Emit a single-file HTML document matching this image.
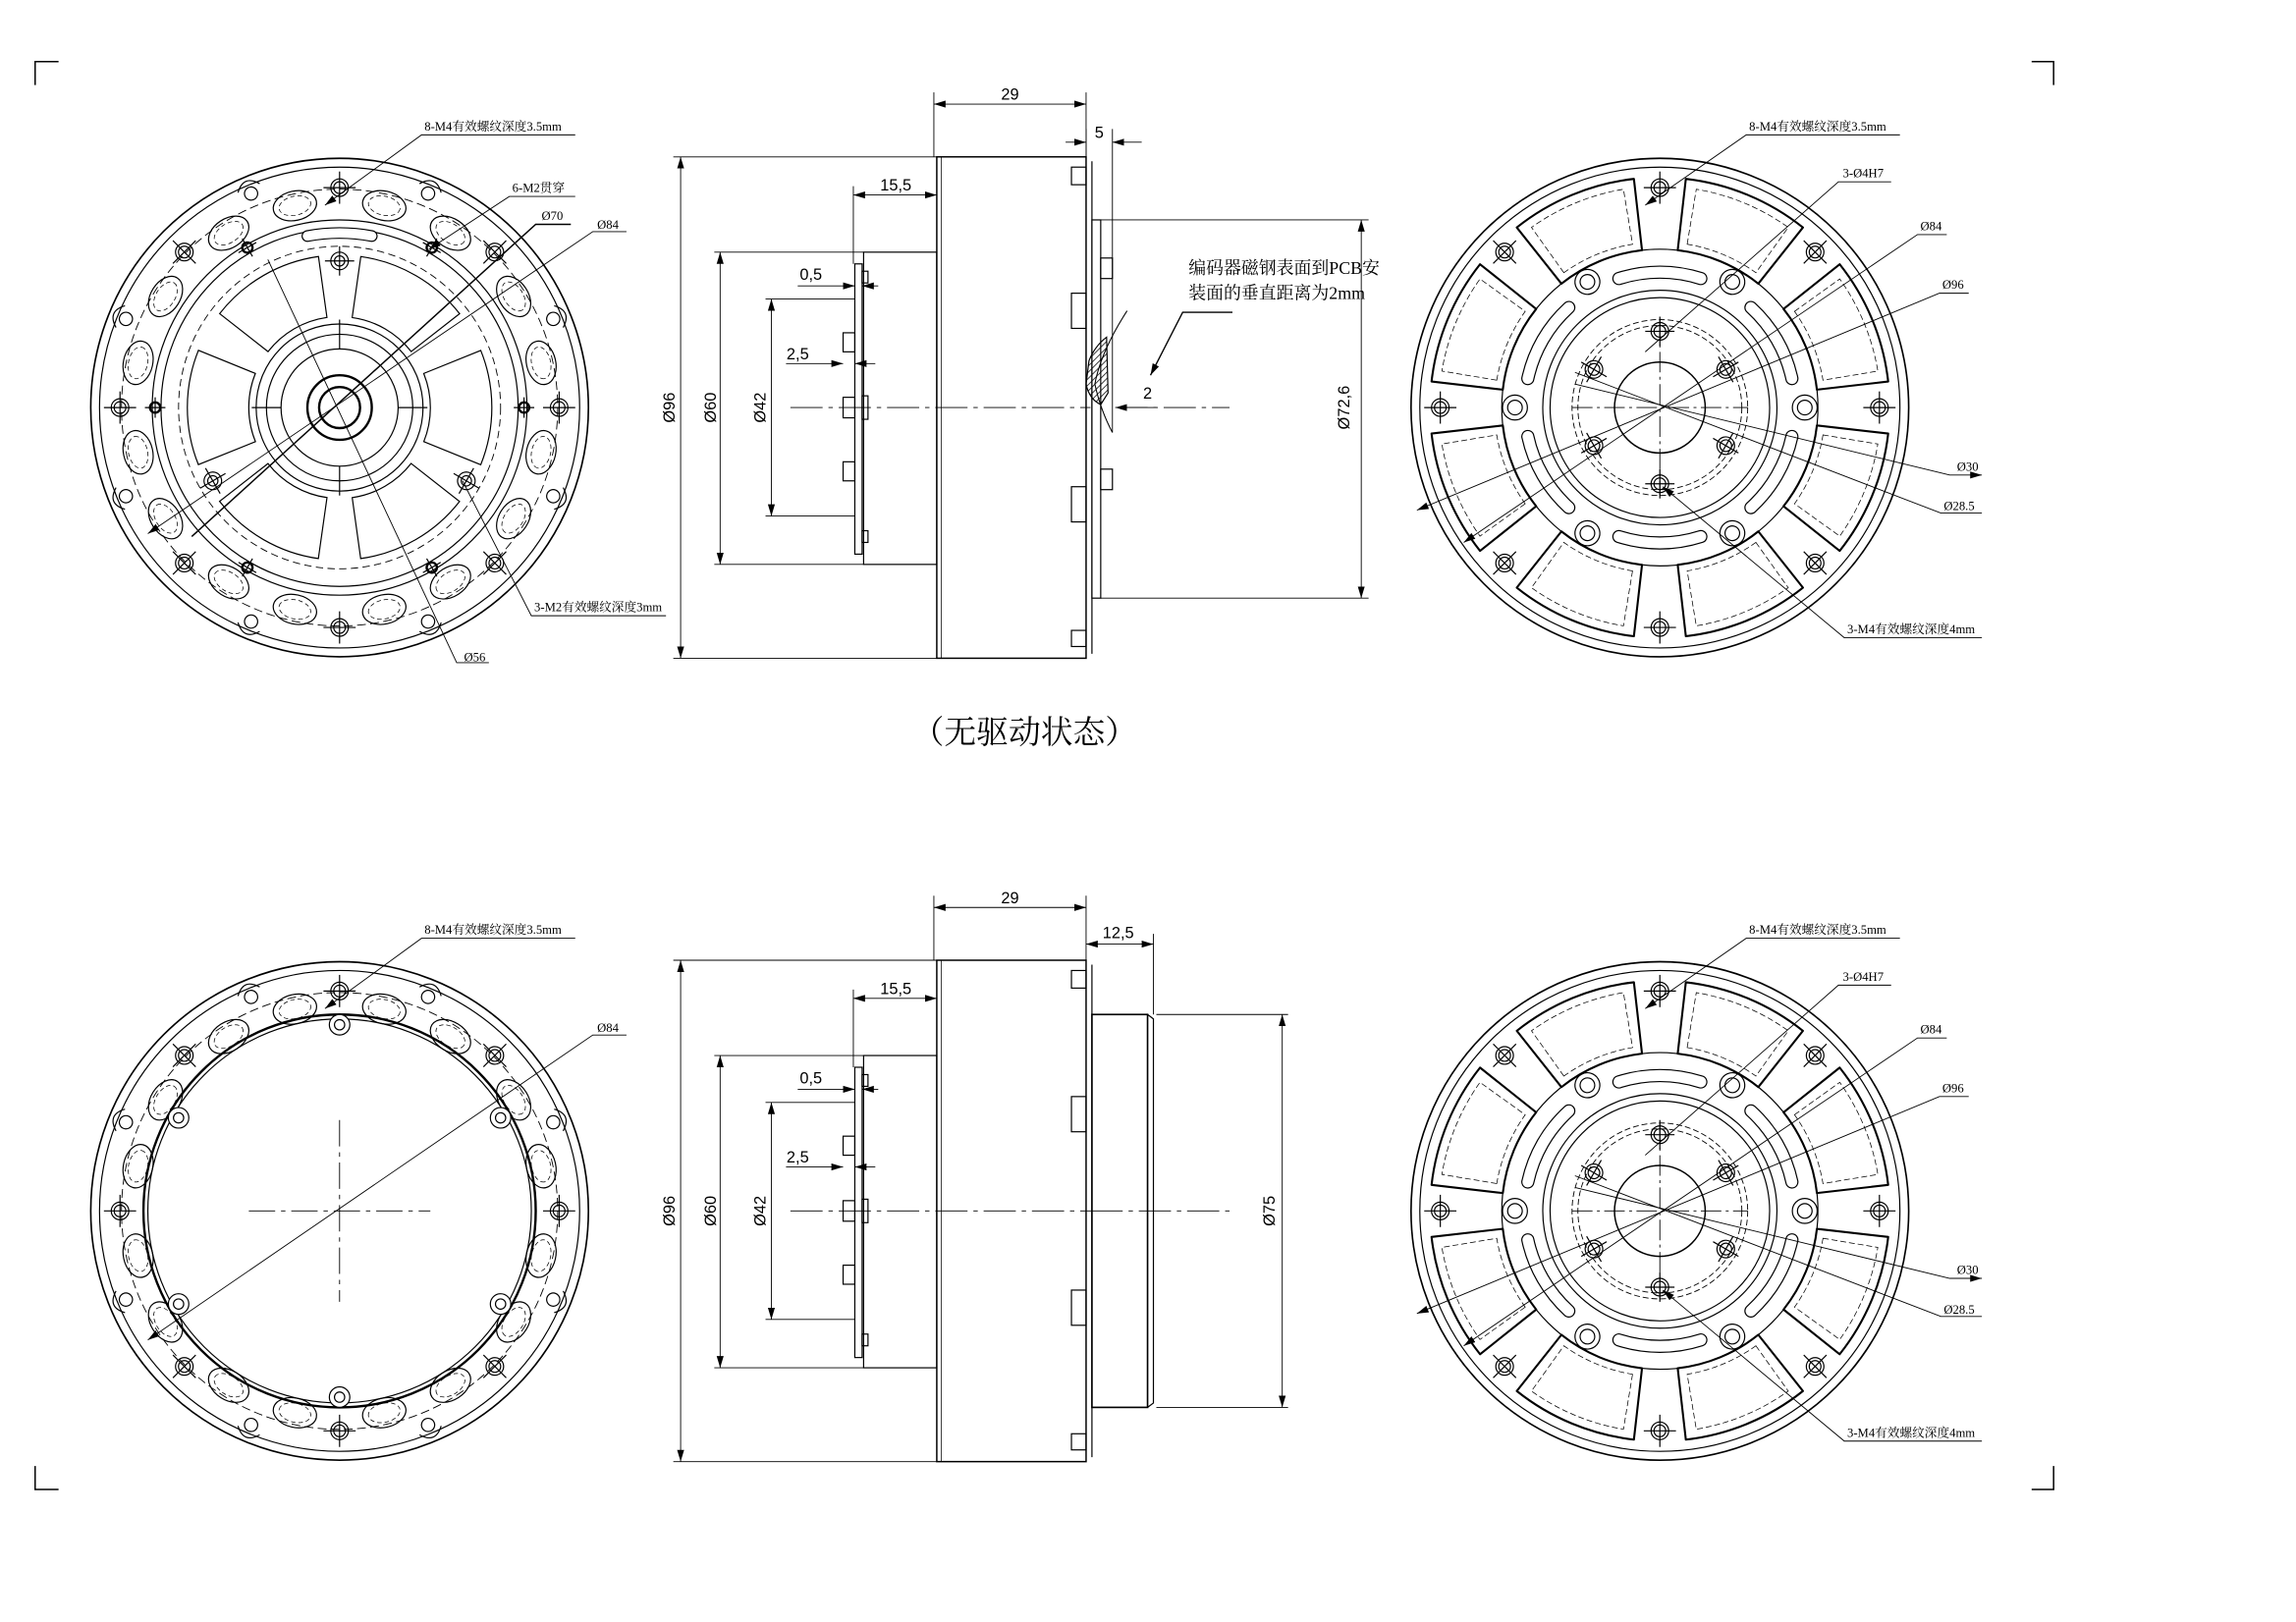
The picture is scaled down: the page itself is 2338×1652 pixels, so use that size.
<!DOCTYPE html>
<html><head><meta charset="utf-8"><style>
html,body{margin:0;padding:0;background:#fff;}
svg{display:block;}
text{font-family:"Liberation Sans","Noto Sans CJK SC",sans-serif;fill:#000;}
.s{font-family:"Liberation Serif","Noto Serif CJK SC","Noto Sans CJK SC",serif;}
</style></head><body>
<svg width="2338" height="1652" viewBox="0 0 1568.6 1106.4" preserveAspectRatio="none" xmlns="http://www.w3.org/2000/svg">
<defs>
<marker id="a" viewBox="0 0 10 6" refX="10" refY="3" markerWidth="8" markerHeight="5" orient="auto-start-reverse" markerUnits="userSpaceOnUse"><path d="M0,0 L10,3 L0,6z" fill="#000"/></marker>
<pattern id="h" width="3" height="3" patternUnits="userSpaceOnUse" patternTransform="rotate(45)"><line x1="0" y1="0" x2="0" y2="3" stroke="#000" stroke-width="1"/></pattern>
<g id="ov"><ellipse cx="0" cy="-141" rx="15" ry="10"/><ellipse cx="0" cy="-141" rx="11" ry="6.5" stroke-dasharray="3 2" stroke-width="0.5"/></g>
<g id="m4"><circle cx="0" cy="-150" r="6"/><circle cx="0" cy="-150" r="4"/><line x1="-11" y1="-150" x2="11" y2="-150"/><line x1="0" y1="-161" x2="0" y2="-139"/></g>
<g id="sh"><circle cx="0" cy="-158" r="4.5"/><path d="M-8,-162 Q0,-172 8,-162"/></g>
<g id="ring" fill="none" stroke="#000" stroke-width="0.8">
<circle r="170" stroke-width="1.1"/><circle r="164"/>
<circle r="149" stroke-dasharray="6 3" stroke-width="0.6"/>
<use href="#ov" transform="rotate(12.5)"/><use href="#ov" transform="rotate(32.5)"/><use href="#ov" transform="rotate(57.5)"/><use href="#ov" transform="rotate(77.5)"/>
<use href="#ov" transform="rotate(102.5)"/><use href="#ov" transform="rotate(122.5)"/><use href="#ov" transform="rotate(147.5)"/><use href="#ov" transform="rotate(167.5)"/>
<use href="#ov" transform="rotate(192.5)"/><use href="#ov" transform="rotate(212.5)"/><use href="#ov" transform="rotate(237.5)"/><use href="#ov" transform="rotate(257.5)"/>
<use href="#ov" transform="rotate(282.5)"/><use href="#ov" transform="rotate(302.5)"/><use href="#ov" transform="rotate(327.5)"/><use href="#ov" transform="rotate(347.5)"/>
<use href="#m4"/><use href="#m4" transform="rotate(45)"/><use href="#m4" transform="rotate(90)"/><use href="#m4" transform="rotate(135)"/>
<use href="#m4" transform="rotate(180)"/><use href="#m4" transform="rotate(225)"/><use href="#m4" transform="rotate(270)"/><use href="#m4" transform="rotate(315)"/>
<use href="#sh" transform="rotate(22.5)"/><use href="#sh" transform="rotate(67.5)"/><use href="#sh" transform="rotate(112.5)"/><use href="#sh" transform="rotate(157.5)"/>
<use href="#sh" transform="rotate(202.5)"/><use href="#sh" transform="rotate(247.5)"/><use href="#sh" transform="rotate(292.5)"/><use href="#sh" transform="rotate(337.5)"/>
</g>
<path id="win" d="M8.6,-61.4 L14.5,-103 A104,104 0 0 1 82,-64 L48.9,-38.2 A62,62 0 0 0 8.6,-61.4Z"/>
<g id="m2a"><circle cx="0" cy="-100" r="3.5"/><circle cx="0" cy="-100" r="6"/><line x1="-10" y1="-100" x2="10" y2="-100"/><line x1="0" y1="-110" x2="0" y2="-90"/></g>
<g id="m2b"><circle cx="0" cy="-126" r="3.5" stroke-width="1.6"/><line x1="-7" y1="-126" x2="7" y2="-126"/><line x1="0" y1="-133" x2="0" y2="-119"/></g>
<g id="rwin"><path d="M-29.8,-103.8 L-43.3,-150.9 A157,157 0 0 1 43.3,-150.9 L29.8,-103.8 A108,108 0 0 0 -29.8,-103.8Z" stroke-width="1.4" stroke-linejoin="round"/>
<path d="M-25.4,-110.1 L-34,-147.1 A151,151 0 0 1 34,-147.1 L25.4,-110.1 A113,113 0 0 0 -25.4,-110.1Z" stroke-dasharray="4 2" stroke-width="0.5"/></g>
<g id="slot"><path d="M-28,-88 A92,92 0 0 1 28,-88" stroke-width="9" stroke-linecap="round"/><path d="M-28,-88 A92,92 0 0 1 28,-88" stroke="#fff" stroke-width="7.4" stroke-linecap="round"/></g>
<g id="sh2"><circle cx="0" cy="-99" r="5"/><circle cx="0" cy="-99" r="8.5"/></g>
<g id="ih"><circle cx="0" cy="-52" r="6"/><circle cx="0" cy="-52" r="4"/><line x1="-10" y1="-52" x2="10" y2="-52"/><line x1="0" y1="-62" x2="0" y2="-42"/></g>
<g id="rv" fill="none" stroke="#000" stroke-width="0.8">
<circle r="170" stroke-width="1.1"/><circle r="164"/>
<use href="#rwin" transform="rotate(22.5)"/><use href="#rwin" transform="rotate(67.5)"/><use href="#rwin" transform="rotate(112.5)"/><use href="#rwin" transform="rotate(157.5)"/>
<use href="#rwin" transform="rotate(202.5)"/><use href="#rwin" transform="rotate(247.5)"/><use href="#rwin" transform="rotate(292.5)"/><use href="#rwin" transform="rotate(337.5)"/>
<use href="#m4"/><use href="#m4" transform="rotate(45)"/><use href="#m4" transform="rotate(90)"/><use href="#m4" transform="rotate(135)"/>
<use href="#m4" transform="rotate(180)"/><use href="#m4" transform="rotate(225)"/><use href="#m4" transform="rotate(270)"/><use href="#m4" transform="rotate(315)"/>
<circle r="108"/>
<use href="#slot"/><use href="#slot" transform="rotate(60)"/><use href="#slot" transform="rotate(120)"/><use href="#slot" transform="rotate(180)"/><use href="#slot" transform="rotate(240)"/><use href="#slot" transform="rotate(300)"/>
<use href="#sh2" transform="rotate(30)"/><use href="#sh2" transform="rotate(90)"/><use href="#sh2" transform="rotate(150)"/><use href="#sh2" transform="rotate(210)"/><use href="#sh2" transform="rotate(270)"/><use href="#sh2" transform="rotate(330)"/>
<circle r="80"/><circle r="75"/>
<circle r="60" stroke-dasharray="4 2" stroke-width="0.6"/><circle r="56" stroke-dasharray="4 2" stroke-width="0.6"/>
<circle r="31" stroke-width="1"/>
<use href="#ih"/><use href="#ih" transform="rotate(60)"/><use href="#ih" transform="rotate(120)"/><use href="#ih" transform="rotate(180)"/><use href="#ih" transform="rotate(240)"/><use href="#ih" transform="rotate(300)"/>
<line x1="-60" y1="0" x2="60" y2="0" stroke-dasharray="14 3 2 3" stroke-width="0.6"/>
<line x1="0" y1="-60" x2="0" y2="60" stroke-dasharray="14 3 2 3" stroke-width="0.6"/>
</g>
<g id="side" fill="none" stroke="#000" stroke-width="0.8">
<rect x="640" y="107" width="102" height="342" stroke-width="1"/>
<line x1="643" y1="107" x2="643" y2="449" stroke-width="0.5"/>
<line x1="746" y1="110" x2="746" y2="446"/>
<rect x="732" y="114" width="10" height="12"/><rect x="732" y="200" width="10" height="24"/><rect x="732" y="332" width="10" height="24"/><rect x="732" y="430" width="10" height="11"/>
<line x1="638" y1="63" x2="638" y2="107" stroke-width="0.6"/><line x1="742" y1="63" x2="742" y2="107" stroke-width="0.6"/>
<line x1="638" y1="71" x2="742" y2="71" marker-start="url(#a)" marker-end="url(#a)" stroke-width="0.6"/>
<line x1="460" y1="107" x2="640" y2="107" stroke-width="0.6"/><line x1="460" y1="449" x2="640" y2="449" stroke-width="0.6"/>
<line x1="465" y1="107" x2="465" y2="449" marker-start="url(#a)" marker-end="url(#a)" stroke-width="0.6"/>
<rect x="590" y="172" width="50" height="213"/>
<line x1="488" y1="172" x2="590" y2="172" stroke-width="0.6"/><line x1="488" y1="385" x2="590" y2="385" stroke-width="0.6"/>
<line x1="492" y1="172" x2="492" y2="385" marker-start="url(#a)" marker-end="url(#a)" stroke-width="0.6"/>
<rect x="584" y="180" width="5" height="198"/>
<rect x="576" y="227" width="8" height="13"/><rect x="576" y="271" width="8" height="14"/><rect x="576" y="315" width="8" height="13"/>
<rect x="589" y="185" width="4" height="8"/><rect x="589" y="270" width="4" height="16"/><rect x="589" y="362" width="4" height="8"/>
<line x1="523" y1="204" x2="584" y2="204" stroke-width="0.6"/><line x1="523" y1="352" x2="584" y2="352" stroke-width="0.6"/>
<line x1="527" y1="204" x2="527" y2="352" marker-start="url(#a)" marker-end="url(#a)" stroke-width="0.6"/>
<line x1="545" y1="195" x2="584" y2="195" marker-end="url(#a)" stroke-width="0.6"/><line x1="600" y1="195" x2="589" y2="195" marker-end="url(#a)" stroke-width="0.6"/>
<line x1="537" y1="248" x2="576" y2="248" marker-end="url(#a)" stroke-width="0.6"/><line x1="598" y1="248" x2="584" y2="248" marker-end="url(#a)" stroke-width="0.6"/>
<line x1="583" y1="127" x2="583" y2="180" stroke-width="0.6"/>
<line x1="583" y1="133" x2="640" y2="133" marker-start="url(#a)" marker-end="url(#a)" stroke-width="0.6"/>
<line x1="540" y1="278" x2="745" y2="278" stroke-dasharray="22 4 3 4" stroke-width="0.6"/>
</g>
<g id="sidet">
<use href="#side"/>
<text x="690" y="68" font-size="11" text-anchor="middle">29</text>
<text x="612" y="130" font-size="11" text-anchor="middle">15,5</text>
<text x="554" y="191" font-size="11" text-anchor="middle">0,5</text>
<text x="545" y="245" font-size="11" text-anchor="middle">2,5</text>
<text transform="translate(461,278) rotate(-90)" font-size="11" text-anchor="middle">Ø96</text>
<text transform="translate(489,278) rotate(-90)" font-size="11" text-anchor="middle">Ø60</text>
<text transform="translate(523,278) rotate(-90)" font-size="11" text-anchor="middle">Ø42</text>
</g>
</defs>

<g fill="none" stroke="#000" stroke-width="1">
<path d="M24,58 V42 H40"/><path d="M1388,42 H1403 V58"/><path d="M24,1000 V1016 H40"/><path d="M1403,1000 V1016 H1388"/>
</g>

<g transform="translate(232,278)" fill="none" stroke="#000" stroke-width="0.8">
<use href="#ring"/>
<circle r="128"/><circle r="122"/><circle r="110" stroke-dasharray="5 3" stroke-width="0.6"/>
<path d="M-22,-117 A119,119 0 0 1 22,-117" stroke-width="8" stroke-linecap="round"/><path d="M-22,-117 A119,119 0 0 1 22,-117" stroke="#fff" stroke-width="6.4" stroke-linecap="round"/>
<use href="#win"/><use href="#win" transform="rotate(60)"/><use href="#win" transform="rotate(120)"/><use href="#win" transform="rotate(180)"/><use href="#win" transform="rotate(240)"/><use href="#win" transform="rotate(300)"/>
<use href="#m2a"/><use href="#m2a" transform="rotate(120)"/><use href="#m2a" transform="rotate(240)"/>
<use href="#m2b" transform="rotate(30)"/><use href="#m2b" transform="rotate(90)"/><use href="#m2b" transform="rotate(150)"/><use href="#m2b" transform="rotate(210)"/><use href="#m2b" transform="rotate(270)"/><use href="#m2b" transform="rotate(330)"/>
<circle r="57"/><circle r="50"/><circle r="40"/><circle r="22" stroke-width="1.6"/><circle r="14" stroke-width="1.6"/>
<line x1="-60" y1="0" x2="-40" y2="0"/><line x1="40" y1="0" x2="60" y2="0"/><line x1="0" y1="-60" x2="0" y2="-40"/><line x1="0" y1="40" x2="0" y2="60"/>
</g>
<g fill="none" stroke="#000" stroke-width="0.6">
<path d="M393,92 H288 L222,140" marker-end="url(#a)"/>
<path d="M393,134 H348 L293,170" marker-end="url(#a)"/>
<path d="M390,153 H366 L131,366" stroke-width="1"/>
<path d="M428,158 H405 L101,364" marker-end="url(#a)"/>
<path d="M183,177 L312,452 H334"/>
<path d="M455,420 H363 L316,328"/>
</g>
<g font-size="8.5" class="s">
<text x="290" y="89" class="s">8-M4有效螺纹深度3.5mm</text>
<text x="350" y="131" class="s">6-M2贯穿</text>
<text x="370" y="150" class="s">Ø70</text>
<text x="408" y="156" class="s">Ø84</text>
<text x="317" y="451" class="s">Ø56</text>
<text x="365" y="417" class="s">3-M2有效螺纹深度3mm</text>
</g>

<use href="#sidet"/>
<g fill="none" stroke="#000" stroke-width="0.8">
<rect x="746" y="150" width="6" height="258"/>
<rect x="752" y="176" width="8" height="14"/><rect x="752" y="320" width="8" height="14"/>
<line x1="760" y1="88" x2="760" y2="295" stroke-width="0.6"/>
<line x1="742" y1="88" x2="742" y2="107" stroke-width="0.6"/>
<line x1="728" y1="97" x2="742" y2="97" marker-end="url(#a)" stroke-width="0.6"/><line x1="780" y1="97" x2="760" y2="97" marker-end="url(#a)" stroke-width="0.6"/>
<path d="M770,212 Q752,240 748,262 Q752,280 760,295" stroke-width="0.7"/>
<path d="M742,262 L744,246 Q748,236 756,230 L757,268 L752,276 Q744,272 742,262Z" fill="url(#h)" stroke-width="0.8"/>
<line x1="752" y1="150" x2="935" y2="150" stroke-width="0.6"/><line x1="752" y1="408" x2="935" y2="408" stroke-width="0.6"/>
<line x1="930" y1="150" x2="930" y2="408" marker-start="url(#a)" marker-end="url(#a)" stroke-width="0.6"/>
<path d="M842,213 H808 L786,256" marker-end="url(#a)" stroke-width="0.9"/>
<line x1="790" y1="278" x2="762" y2="278" marker-end="url(#a)" stroke-width="0.6"/>
<line x1="762" y1="278" x2="840" y2="278" stroke-dasharray="22 4 3 4" stroke-width="0.6"/>
</g>
<text x="751" y="94" font-size="11" text-anchor="middle">5</text>
<text x="784" y="272" font-size="11" text-anchor="middle">2</text>
<text transform="translate(922,278) rotate(-90)" font-size="11" text-anchor="middle">Ø72,6</text>
<text x="812" y="187" font-size="12" class="s">编码器磁钢表面到PCB安</text>
<text x="812" y="204" font-size="12" class="s">装面的垂直距离为2mm</text>

<use href="#rv" transform="translate(1134,278)"/>
<g fill="none" stroke="#000" stroke-width="0.6">
<path d="M1298,92 H1193 L1124,140" marker-end="url(#a)"/>
<path d="M1292,124 H1256 L1124,240"/>
<path d="M1330,160 H1310 L1000,370" marker-end="url(#a)"/>
<path d="M1345,200 H1325 L968,348" marker-end="url(#a)"/>
<path d="M1354,324 H1332 L1076,262" marker-start="url(#a)"/>
<path d="M1354,350 H1326 L1076,254"/>
<path d="M1354,435 H1260 L1136,332" marker-end="url(#a)"/>
</g>
<g font-size="8.5">
<text x="1195" y="89" class="s">8-M4有效螺纹深度3.5mm</text>
<text x="1259" y="121" class="s">3-Ø4H7</text>
<text x="1312" y="157" class="s">Ø84</text>
<text x="1327" y="197" class="s">Ø96</text>
<text x="1337" y="321" class="s">Ø30</text>
<text x="1328" y="348" class="s">Ø28.5</text>
<text x="1262" y="432" class="s">3-M4有效螺纹深度4mm</text>
</g>

<text x="700" y="507" font-size="22" text-anchor="middle" class="s">（无驱动状态）</text>

<g transform="translate(232,826)" fill="none" stroke="#000" stroke-width="0.8">
<use href="#ring"/>
<circle r="134" stroke-width="1.6"/><circle r="131" stroke-width="0.8"/>
<g fill="#fff">
<circle cx="0" cy="-127" r="7"/><circle cx="0" cy="127" r="7"/>
<circle cx="110" cy="-63.5" r="7"/><circle cx="-110" cy="-63.5" r="7"/><circle cx="110" cy="63.5" r="7"/><circle cx="-110" cy="63.5" r="7"/>
</g>
<circle cx="0" cy="-127" r="3.5"/><circle cx="0" cy="127" r="3.5"/>
<circle cx="110" cy="-63.5" r="3.5"/><circle cx="-110" cy="-63.5" r="3.5"/><circle cx="110" cy="63.5" r="3.5"/><circle cx="-110" cy="63.5" r="3.5"/>
<line x1="-62" y1="0" x2="62" y2="0" stroke-dasharray="18 4 3 4" stroke-width="0.6"/>
<line x1="0" y1="-62" x2="0" y2="62" stroke-dasharray="18 4 3 4" stroke-width="0.6"/>
</g>
<g fill="none" stroke="#000" stroke-width="0.6">
<path d="M393,640 H288 L222,688" marker-end="url(#a)"/>
<path d="M428,706 H405 L101,914" marker-end="url(#a)"/>
</g>
<text x="290" y="637" font-size="8.5" class="s">8-M4有效螺纹深度3.5mm</text>
<text x="408" y="704" font-size="8.5" class="s">Ø84</text>

<use href="#sidet" transform="translate(0,548)"/>
<g fill="none" stroke="#000" stroke-width="0.8">
<rect x="746" y="692" width="38" height="268" stroke-width="1.1"/>
<path d="M784,692 L788,695 V957 L784,960"/>
<line x1="788" y1="637" x2="788" y2="692" stroke-width="0.6"/>
<line x1="742" y1="644" x2="788" y2="644" marker-start="url(#a)" marker-end="url(#a)" stroke-width="0.6"/>
<line x1="790" y1="692" x2="880" y2="692" stroke-width="0.6"/><line x1="790" y1="960" x2="880" y2="960" stroke-width="0.6"/>
<line x1="876" y1="692" x2="876" y2="960" marker-start="url(#a)" marker-end="url(#a)" stroke-width="0.6"/>
<line x1="745" y1="826" x2="840" y2="826" stroke-dasharray="22 4 3 4" stroke-width="0.6"/>
</g>
<text x="764" y="640" font-size="11" text-anchor="middle">12,5</text>
<text transform="translate(871,826) rotate(-90)" font-size="11" text-anchor="middle">Ø75</text>

<use href="#rv" transform="translate(1134,826)"/>
<g fill="none" stroke="#000" stroke-width="0.6">
<path d="M1298,640 H1193 L1124,688" marker-end="url(#a)"/>
<path d="M1292,672 H1256 L1124,788"/>
<path d="M1330,708 H1310 L1000,918" marker-end="url(#a)"/>
<path d="M1345,748 H1325 L968,896" marker-end="url(#a)"/>
<path d="M1354,872 H1332 L1076,810" marker-start="url(#a)"/>
<path d="M1354,898 H1326 L1076,802"/>
<path d="M1354,983 H1260 L1136,880" marker-end="url(#a)"/>
</g>
<g font-size="8.5">
<text x="1195" y="637" class="s">8-M4有效螺纹深度3.5mm</text>
<text x="1259" y="669" class="s">3-Ø4H7</text>
<text x="1312" y="705" class="s">Ø84</text>
<text x="1327" y="745" class="s">Ø96</text>
<text x="1337" y="869" class="s">Ø30</text>
<text x="1328" y="896" class="s">Ø28.5</text>
<text x="1262" y="980" class="s">3-M4有效螺纹深度4mm</text>
</g>
</svg>
</body></html>
